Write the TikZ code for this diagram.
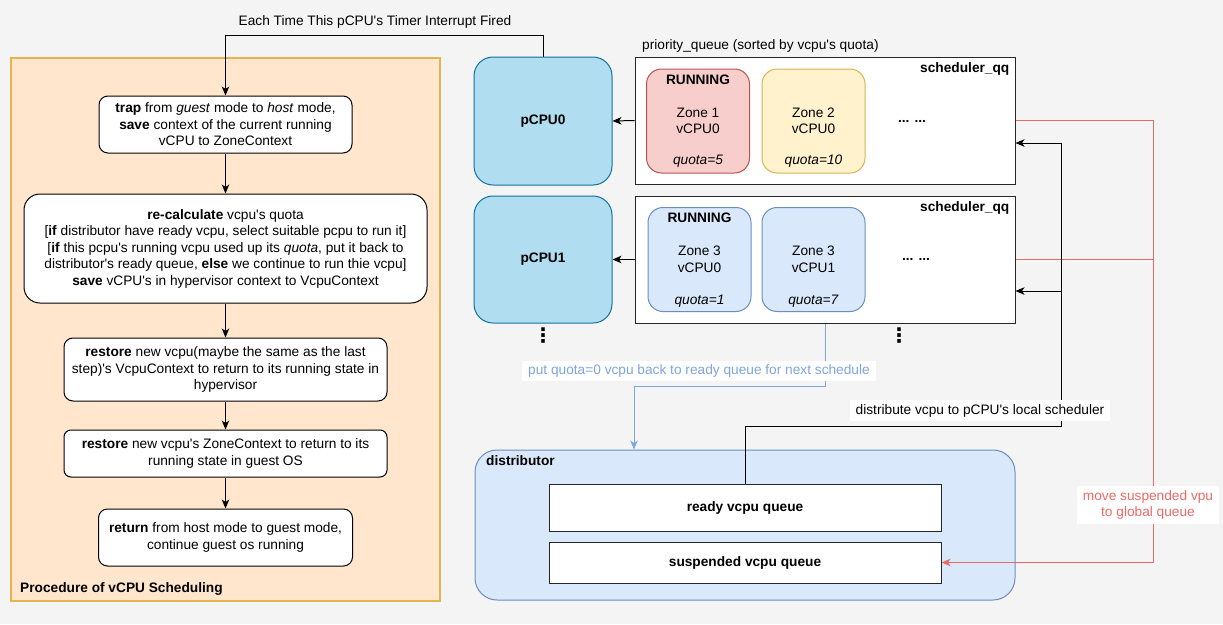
\documentclass[tikz,border=0pt]{standalone}
\usepackage{fontspec}
\setmainfont{Liberation Sans}
\newfontfamily\lsans{Liberation Sans}
\newfontfamily\dejavu{DejaVu Sans}
\newcommand\dfs{\lsans\fontsize{13.7}{16.5}\selectfont}
\usetikzlibrary{arrows.meta,calc}
\definecolor{bgc}{HTML}{F4F4F4}
\definecolor{orfill}{HTML}{FFE6CC}
\definecolor{ordraw}{HTML}{E6B44D}
\definecolor{cpufill}{HTML}{B1DDF0}
\definecolor{cpudraw}{HTML}{10739E}
\definecolor{redfill}{HTML}{F8CECC}
\definecolor{reddraw}{HTML}{B85450}
\definecolor{yelfill}{HTML}{FFF2CC}
\definecolor{yeldraw}{HTML}{D6B656}
\definecolor{bluefill}{HTML}{DAE8FC}
\definecolor{bluedraw}{HTML}{6C8EBF}
\definecolor{redline}{HTML}{EA6B66}
\definecolor{blueline}{HTML}{7EA6E0}
\begin{document}
\begin{tikzpicture}[x=1pt,y=-1pt,
  every node/.style={font=\dfs, inner sep=0pt},
  bld/.style={font=\dfs\bfseries},
  stepbox/.style={draw=black, fill=white, line width=1pt, align=center},
  cpubox/.style={draw=cpudraw, fill=cpufill, line width=1pt, rounded corners=19pt,
    minimum width=138, font=\dfs\bfseries},
  qbox/.style={draw=black!85, fill=white, line width=1pt, minimum width=380, minimum height=127},
  card/.style={line width=1pt, rounded corners=15pt, minimum width=103, minimum height=104, align=center},
  plainbox/.style={draw=black!85, fill=white, line width=1pt, minimum width=392, font=\dfs\bfseries},
  arr/.style={line width=1pt, -{Stealth[length=9pt,width=7.5pt,inset=2.5pt]}},
  lbl/.style={fill=white, inner xsep=6pt, inner ysep=4pt, align=center},
  vdots/.style={font=\dejavu\bfseries\fontsize{20}{20}\selectfont}
]
\fill[bgc] (0,0) rectangle (1223,624);
\useasboundingbox (0,0) rectangle (1223,624);

% ---------- procedure panel ----------
\node[draw=ordraw, fill=orfill, line width=1.3pt, minimum width=429, minimum height=543] (proc) at (225.5,329.5) {};
\node[anchor=west, bld] (proclbl) at (20,589) {Procedure of vCPU Scheduling};

\node[stepbox, rounded corners=9pt, minimum width=253, minimum height=57] (b1) at (225.5,124.5)
  {\textbf{trap} from \textit{guest} mode to \textit{host} mode,\\ \textbf{save} context of the current running\\ vCPU to ZoneContext};
\node[stepbox, rounded corners=16pt, minimum width=403, minimum height=109] (b2) at (225.5,248.5)
  {\textbf{re-calculate} vcpu's quota\\
   {[}\textbf{if} distributor have ready vcpu, select suitable pcpu to run it]\\
   {[}\textbf{if} this pcpu's running vcpu used up its \textit{quota}, put it back to\\
   distributor's ready queue, \textbf{else} we continue to run thie vcpu]\\
   \textbf{save} vCPU's in hypervisor context to VcpuContext};
\node[stepbox, rounded corners=9pt, minimum width=323, minimum height=63] (b3) at (225.5,369.5)
  {\textbf{restore} new vcpu(maybe the same as the last\\ step)'s VcpuContext to return to its running state in\\ hypervisor};
\node[stepbox, rounded corners=7pt, minimum width=323, minimum height=47] (b4) at (225.5,453.5)
  {\textbf{restore} new vcpu's ZoneContext to return to its\\ running state in guest OS};
\node[stepbox, rounded corners=9pt, minimum width=254, minimum height=57] (b5) at (225.5,537.5)
  {\textbf{return} from host mode to guest mode,\\ continue guest os running};

\draw[arr] (b1) -- (b2);
\draw[arr] (b2) -- (b3);
\draw[arr] (b3) -- (b4);
\draw[arr] (b4) -- (b5);

% ---------- pCPUs ----------
\node[cpubox, minimum height=128] (p0) at (543,121) {pCPU0};
\node[cpubox, minimum height=127] (p1) at (543,259.5) {pCPU1};
\node[vdots] (d0) at (543,336) {⋮};

% timer connector
\coordinate (tc) at (225.5,35);
\draw[arr] (p0.north) |- (tc) -- (b1.north);
\node (tlbl) at (375,22) {Each Time This pCPU's Timer Interrupt Fired};

% ---------- scheduler queues ----------
\node[anchor=west] (pq) at (642,46) {priority\_queue (sorted by vcpu's quota)};
\node[qbox] (q0) at (825,120.5) {};
\node[qbox] (q1) at (825,259.5) {};
\node[anchor=east, bld] (q0l) at ($(q0.north east)+(-6,12)$) {scheduler\_qq};
\node[anchor=east, bld] (q1l) at ($(q1.north east)+(-6,12)$) {scheduler\_qq};

\node[card, draw=reddraw, fill=redfill] (c00) at (698,121) {Zone 1\\vCPU0};
\node[card, draw=yeldraw, fill=yelfill] (c01) at (813.5,121) {Zone 2\\vCPU0};
\node[card, draw=bluedraw, fill=bluefill] (c10) at (699.5,259.5) {Zone 3\\vCPU0};
\node[card, draw=bluedraw, fill=bluefill] (c11) at (813.5,259.5) {Zone 3\\vCPU1};
\node[bld] (r0) at ($(c00.north)+(0,11)$) {RUNNING};
\node[bld] (r1) at ($(c10.north)+(0,11)$) {RUNNING};
\node (qa) at ($(c00.south)+(0,-12)$) {\textit{quota=5}};
\node (qb) at ($(c01.south)+(0,-12)$) {\textit{quota=10}};
\node (qc) at ($(c10.south)+(0,-11)$) {\textit{quota=1}};
\node (qd) at ($(c11.south)+(0,-11)$) {\textit{quota=7}};
\node[bld] (e0) at (912,121) {... ...};
\node[bld] (e1) at (916,259.5) {... ...};
\node[vdots] (d1) at (899,336) {⋮};

\draw[arr] (q0.west) -- (p0.east);
\draw[arr] (q1.west) -- (p1.east);

% ---------- distributor ----------
\node[draw=bluedraw, fill=bluefill, line width=1pt, rounded corners=22pt, minimum width=540, minimum height=150] (dist) at (745,525) {};
\node[anchor=west, bld] (distl) at (486,461) {distributor};
\node[plainbox, minimum height=47] (ready) at (745,507.5) {ready vcpu queue};
\node[plainbox, minimum height=41] (susp) at (745,562.5) {suspended vcpu queue};

% red: move suspended
\coordinate (rc) at (1153,562.5);
\draw[redline, line width=1pt] (q1.east) -- (q1.east -| rc);
\draw[arr, redline] (q0.east) -| (rc) -- (susp.east);
\node[lbl, text=redline] (rlbl) at (1148,505) {move suspended vpu\\to global queue};

% black: distribute
\coordinate (dc) at (1061,426);
\draw[arr] (ready.north) |- (dc) |- ($(q0.east)+(0,22.5)$);
\draw[arr] (dc |- 0,291) -- ($(q1.east)+(0,31.5)$);
\node[lbl] (dlbl) at (980,410.5) {distribute vcpu to pCPU's local scheduler};

% blue: put back
\coordinate (bc) at (634,386);
\draw[arr, blueline] (q1.south -| 825,0) |- (bc) -- (bc |- dist.north);
\node[lbl, text=blueline] (blbl) at (699,371) {put quota=0 vcpu back to ready queue for next schedule};
\end{tikzpicture}
\end{document}
